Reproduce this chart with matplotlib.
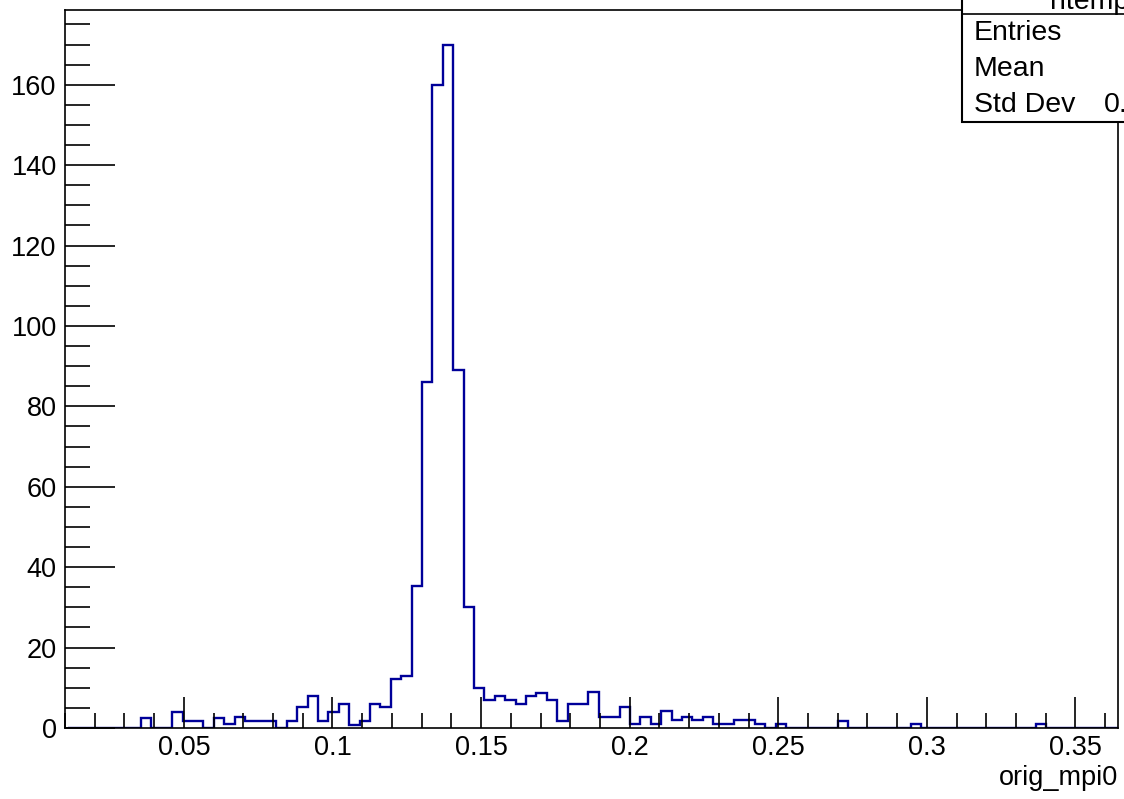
"""
orig_mpi0 histogram, ROOT style
"""
import numpy as np
import matplotlib.pyplot as plt
from matplotlib.ticker import MultipleLocator, FormatStrFormatter

plt.rcParams['font.family'] = ['Liberation Sans', 'DejaVu Sans']

x_lo = 0.0111
bin_w = 0.0035
n_bins = 101

# counts, bin by bin
counts = np.zeros(n_bins)
counts[7:67] = [2.6, 0, 0, 4, 1.8, 1.8, 0, 2.6, 1, 2.8,
                1.8, 1.8, 1.8, 0, 1.8, 5.1, 7.9, 1.8, 4.1, 6,
                0.8, 1.8, 6, 5.1, 12.2, 13, 35.2, 86, 160, 170,
                89, 30, 9.9, 7, 7.9, 7, 6, 7.9, 8.8, 7,
                1.8, 6, 6, 9, 2.8, 2.8, 5.3, 1, 2.8, 1,
                4.3, 2, 2.8, 2, 2.8, 1, 1, 2, 2, 1]
counts[68] = 1
counts[74] = 1.8
counts[81] = 1
counts[93] = 1
edges = x_lo + bin_w * np.arange(n_bins + 1)

fig = plt.figure(figsize=(11.24, 7.99), dpi=100)
ax = fig.add_axes([65 / 1124, 1 - 728 / 799, (1118 - 65) / 1124, (728 - 10) / 799])
ax.stairs(counts, edges, color='#000099', lw=1.7)
ax.set_xlim(0.0100, 0.3643)
ax.set_ylim(0, 178.6)

ax.xaxis.set_major_locator(MultipleLocator(0.05))
ax.xaxis.set_minor_locator(MultipleLocator(0.01))
ax.xaxis.set_major_formatter(FormatStrFormatter('%g'))
ax.yaxis.set_major_locator(MultipleLocator(20))
ax.yaxis.set_minor_locator(MultipleLocator(5))
ax.tick_params(which='both', direction='in', top=False, right=False, labelsize=19.5, width=1.2)
ax.tick_params(axis='x', which='major', length=22, pad=5)
ax.tick_params(axis='x', which='minor', length=11)
ax.tick_params(axis='y', which='major', length=36, pad=6)
ax.tick_params(axis='y', which='minor', length=18)
for s in ax.spines.values():
    s.set_linewidth(1.2)

fig.text(1118 / 1124, 1 - 778 / 799, 'orig_mpi0', ha='right', va='center', fontsize=19.5)

# stats box, cut by the figure edge
box = plt.Rectangle((962 / 1124, 1 - 122 / 799), 0.3, 0.3, transform=fig.transFigure,
                    fill=True, facecolor='white', edgecolor='black', lw=1.5, zorder=5)
fig.add_artist(box)
fig.add_artist(plt.Line2D([962 / 1124, 1.2], [1 - 14 / 799] * 2, transform=fig.transFigure,
                          color='black', lw=1.2, zorder=6))
fig.text(1050 / 1124, 1 - 2 / 799, 'htemp', ha='left', va='center', fontsize=20.5, zorder=7)
for i, lab in enumerate(['Entries', 'Mean', 'Std Dev']):
    fig.text(974 / 1124, 1 - (33 + 36 * i) / 799, lab, ha='left', va='center', fontsize=20.5, zorder=7)
fig.text(1104 / 1124, 1 - 105 / 799, '0.02', ha='left', va='center', fontsize=20.5, zorder=7)

fig.savefig('out.png', dpi=100)
